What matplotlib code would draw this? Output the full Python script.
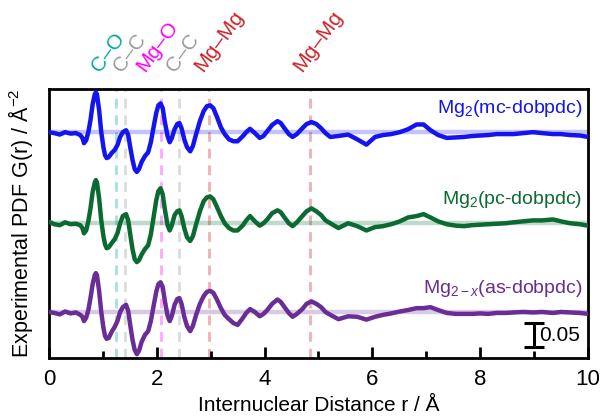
import matplotlib
matplotlib.use("Agg")
import matplotlib.pyplot as plt
import numpy as np

plt.rcParams['font.family'] = ['Liberation Sans', 'DejaVu Sans']
plt.rcParams['mathtext.fontset'] = 'custom'
plt.rcParams['mathtext.rm'] = 'Liberation Sans'
plt.rcParams['mathtext.it'] = 'Liberation Sans:italic'

# r grid (Angstrom) shared by the three traces
r_head = [0.00, 0.10, 0.20, 0.30, 0.40, 0.50]
r_mid = [0.58, 0.62, 0.65, 0.69, 0.73, 0.77, 0.81, 0.85, 0.87, 0.89, 0.93, 0.97, 1.01, 1.04, 1.07, 1.11,
         1.16, 1.22, 1.27, 1.32, 1.37, 1.43, 1.47, 1.51, 1.55, 1.59, 1.63, 1.67, 1.72, 1.78, 1.84, 1.89,
         1.94, 1.99, 2.03, 2.07, 2.11, 2.15, 2.20, 2.24, 2.28, 2.33, 2.38, 2.42, 2.46, 2.51, 2.56, 2.62,
         2.67, 2.73, 2.80, 2.87, 2.93, 2.99, 3.05, 3.12, 3.19, 3.26, 3.34, 3.42, 3.50]
r_tail = [3.60, 3.66, 3.73, 3.82, 3.91, 3.98, 4.05, 4.14, 4.24, 4.30, 4.37, 4.45, 4.52, 4.60, 4.70, 4.78,
          4.87, 4.96, 5.05, 5.13, 5.22, 5.37, 5.55, 5.72, 5.89, 6.05, 6.20, 6.35, 6.51, 6.66, 6.82, 6.95,
          7.08, 7.22, 7.38, 7.55, 7.70, 7.85, 8.00, 8.15, 8.31, 8.47, 8.62, 8.80, 8.98, 9.15, 9.35, 9.50,
          9.67, 9.85, 10.00]
r = r_head + r_mid + r_tail

# G(r) in A^-2, Mg2(mc-dobpdc)
g_mc = [0.000, -0.002, -0.005, 0.000, -0.003, -0.002,
        -0.006, -0.012, -0.023, -0.017, 0.000, 0.025, 0.058, 0.079, 0.083, 0.079, 0.046, 0.000, -0.031, -0.048, -0.054, -0.052,
        -0.044, -0.037, -0.027, -0.010, 0.000, 0.004, -0.006, -0.033, -0.058, -0.077, -0.083, -0.077, -0.062, -0.050, -0.042, -0.021,
        0.010, 0.040, 0.056, 0.060, 0.050, 0.021, -0.008, -0.021, -0.012, 0.006, 0.017, 0.019, 0.008, -0.015, -0.031, -0.040,
        -0.029, -0.004, 0.023, 0.044, 0.054, 0.056, 0.050, 0.031, 0.010, -0.004, -0.015, -0.019, -0.019,
        -0.008, 0.000, 0.007, -0.002, -0.012, -0.008, 0.002, 0.015, 0.023, 0.019, 0.008, -0.004, -0.010, -0.004, 0.008, 0.017,
        0.021, 0.017, 0.008, -0.002, -0.010, -0.008, -0.005, -0.015, -0.026, -0.010, -0.006, -0.004, 0.000, 0.006, 0.016, 0.016,
        0.004, -0.006, -0.012, -0.011, -0.010, -0.008, -0.007, -0.006, -0.004, -0.004, -0.004, -0.002, 0.000, -0.002, -0.004, -0.004,
        -0.006, -0.007, -0.010]

# Mg2(pc-dobpdc)
g_pc = [0.003, -0.002, -0.004, 0.002, -0.002, -0.001,
        -0.004, -0.010, -0.021, -0.015, 0.004, 0.031, 0.065, 0.085, 0.090, 0.085, 0.052, 0.006, -0.027, -0.044, -0.052, -0.050,
        -0.042, -0.033, -0.021, 0.000, 0.015, 0.019, 0.006, -0.025, -0.054, -0.075, -0.081, -0.077, -0.065, -0.054, -0.046, -0.023,
        0.012, 0.048, 0.067, 0.073, 0.060, 0.029, -0.004, -0.015, -0.004, 0.017, 0.025, 0.027, 0.015, -0.010, -0.029, -0.037,
        -0.027, -0.002, 0.025, 0.046, 0.054, 0.056, 0.050, 0.033, 0.015, 0.000, -0.010, -0.015, -0.015,
        -0.004, 0.006, 0.015, 0.004, -0.005, 0.000, 0.008, 0.021, 0.027, 0.023, 0.012, 0.000, -0.006, 0.002, 0.015, 0.025,
        0.031, 0.025, 0.017, 0.006, 0.000, -0.010, 0.000, -0.006, -0.015, -0.008, -0.006, -0.002, 0.004, 0.012, 0.015, 0.019,
        0.012, 0.004, -0.002, -0.005, -0.006, -0.004, -0.003, -0.002, -0.001, 0.000, 0.002, 0.004, 0.006, 0.006, 0.008, 0.004,
        0.000, -0.002, -0.005]

# Mg2-x(as-dobpdc)
g_as = [0.000, -0.002, -0.005, 0.001, -0.003, -0.001,
        -0.006, -0.010, -0.019, -0.012, 0.004, 0.029, 0.058, 0.077, 0.081, 0.077, 0.044, 0.000, -0.033, -0.050, -0.056, -0.054,
        -0.042, -0.031, -0.019, 0.000, 0.010, 0.015, 0.002, -0.029, -0.058, -0.079, -0.088, -0.081, -0.062, -0.048, -0.040, -0.019,
        0.012, 0.042, 0.058, 0.062, 0.052, 0.023, -0.008, -0.019, -0.008, 0.015, 0.027, 0.029, 0.017, -0.010, -0.029, -0.040,
        -0.029, -0.006, 0.017, 0.033, 0.042, 0.044, 0.040, 0.025, 0.008, -0.006, -0.015, -0.023, -0.027,
        -0.012, -0.002, 0.006, 0.000, -0.009, -0.004, 0.004, 0.017, 0.026, 0.021, 0.010, -0.002, -0.010, -0.004, 0.006, 0.017,
        0.022, 0.017, 0.010, 0.000, -0.006, -0.015, -0.009, -0.010, -0.016, -0.010, -0.006, -0.003, 0.001, 0.004, 0.008, 0.008,
        0.010, 0.004, -0.002, -0.004, -0.004, -0.004, -0.003, -0.004, -0.002, -0.002, -0.001, 0.000, -0.001, 0.000, -0.002, 0.000,
        -0.001, -0.002, -0.004]

names = ['Mg$_2$(mc-dobpdc)', 'Mg$_2$(pc-dobpdc)', 'Mg$_{2\u2212\\mathit{x}}$(as-dobpdc)']
offsets = [0.375, 0.185, 0.0]
colors = ['#1414f0', '#0b6a32', '#6a2c96']
traces = [g_mc, g_pc, g_as]

# bond distances marked with dashed lines
bond_r = [1.24, 1.41, 2.07, 2.42, 2.97, 4.85]
bond_lab = ['C\u2013O', 'C\u2013C', 'Mg\u2013O', 'C\u2013C', 'Mg\u2013Mg', 'Mg\u2013Mg']
bond_lab_r = [0.95, 1.35, 1.78, 2.34, 2.86, 4.69]
bond_col = ['#00a99d', '#9a9a9a', '#ff00ff', '#9a9a9a', '#cc2229', '#cc2229']

fig = plt.figure(figsize=(6.01, 4.2), dpi=100)
ax = fig.add_axes([0.0815, 0.1476, 0.8968, 0.6405])

for br, bc in zip(bond_r, bond_col):
    ax.axvline(br, color=bc, alpha=0.35, lw=2, ls=(0, (3.5, 2.5)), zorder=1)

for tr, off, c, nm in zip(traces, offsets, colors, names):
    ax.axhline(off, color=c, alpha=0.25, lw=3.2, zorder=2)
    ax.plot(r, np.array(tr) + off, color=c, lw=3.2, solid_joinstyle='round',
            solid_capstyle='round', zorder=3)
    ax.text(9.9, off + 0.04, nm, color=c, fontsize=14, ha='right', va='baseline')

for lr, lt, lc in zip(bond_lab_r, bond_lab, bond_col):
    ax.text(lr, 1.06, lt, color=lc, fontsize=15, rotation=54, rotation_mode='anchor',
            ha='left', va='baseline', transform=ax.get_xaxis_transform(), clip_on=False)

# scale bar
ax.errorbar([9.0], [-0.048], yerr=[0.025], color='black', lw=2.2, capsize=7, capthick=2.2)
ax.text(9.1, -0.049, '0.05', fontsize=15, ha='left', va='center')

ax.set_xlim(0, 10)
ax.set_ylim(-0.096, 0.465)
ax.set_xticks([0, 2, 4, 6, 8, 10])
ax.set_xticks([1, 3, 5, 7, 9], minor=True)
ax.tick_params(axis='x', which='major', direction='in', length=8, width=2, labelsize=16, pad=8)
ax.tick_params(axis='x', which='minor', direction='in', length=5, width=2)
ax.set_yticks([])
for sp in ax.spines.values():
    sp.set_linewidth(2)

ax.set_xlabel('Internuclear Distance r / \u00c5', fontsize=15, labelpad=4)
ax.set_ylabel('Experimental PDF G(r) / \u00c5$^{-2}$', fontsize=15.5, labelpad=10)

fig.savefig('out.png', dpi=100)
